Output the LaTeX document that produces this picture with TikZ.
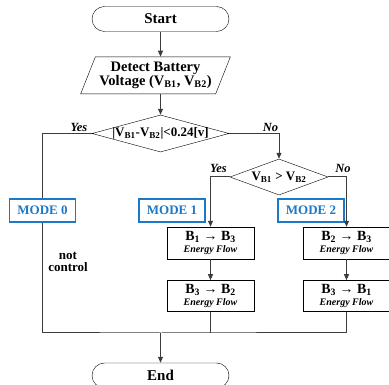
\documentclass[tikz,border=0pt]{standalone}
\usepackage{fontspec}
\setmainfont{Liberation Serif}
\usetikzlibrary{positioning,arrows.meta,shapes.geometric}
\definecolor{fcblue}{RGB}{28,120,200}
\definecolor{fcline}{RGB}{60,60,60}
\tikzset{
  term/.style={draw, rounded corners=12.5pt, minimum width=137pt, minimum height=25pt, font=\fontsize{15}{16}\selectfont\bfseries},
  io/.style={draw, trapezium, trapezium left angle=63, trapezium right angle=117, trapezium stretches=true, minimum width=150pt, minimum height=37pt, align=center, inner sep=0pt, font=\fontsize{14.5}{13}\selectfont\bfseries},
  decision/.style={draw, diamond, inner sep=0pt, text height=8pt, text depth=1pt, font=\fontsize{13}{14}\selectfont\bfseries},
  modebox/.style={draw=fcblue, line width=1.2pt, fill=white, text=fcblue, minimum width=66pt, minimum height=23pt, inner sep=0pt, font=\fontsize{13}{14}\selectfont\bfseries},
  flowbox/.style={draw, minimum width=87pt, minimum height=32pt, align=center, inner sep=0pt, font=\fontsize{14}{12}\selectfont\bfseries},
  tag/.style={font=\fontsize{12.5}{13}\selectfont\bfseries\itshape},
  arrow/.style={-{Triangle[length=6pt,width=5pt]}, fcline, line width=1pt},
  line/.style={fcline, line width=1pt}
}
\newcommand{\eflow}{{\fontsize{10}{11}\selectfont\itshape Energy Flow}}

\begin{document}
\begin{tikzpicture}[x=1pt, y=-1pt, node distance=21pt]
  \useasboundingbox (0,0) rectangle (389,385);
  \node[term] (start) at (160.5,19) {Start};
  \node[io, below=25pt of start, xshift=-5pt] (detect) {Detect Battery\\Voltage (V\textsubscript{B1}, V\textsubscript{B2})};
  \node[decision, aspect=3.7, minimum width=137pt, minimum height=37pt] (d1) at (160.5,133.5) {|V\textsubscript{B1}-V\textsubscript{B2}|<0.24[v]};
  \node[decision, aspect=2.7, minimum width=98pt, minimum height=36pt] (d2) at (279,177) {V\textsubscript{B1} > V\textsubscript{B2}};
  \node[modebox] (mode0) at (42.5,210.5) {MODE 0};
  \node[modebox] (mode1) at (172,210.5) {MODE 1};
  \node[modebox] (mode2) at (311,210.5) {MODE 2};
  \node[flowbox] (b13) at (210.5,243) {B\textsubscript{1} → B\textsubscript{3}\\\eflow};
  \node[flowbox, minimum height=31pt, below=of b13] (b32) {B\textsubscript{3} → B\textsubscript{2}\\\eflow};
  \node[flowbox, minimum width=86pt] (b23) at (346.5,243) {B\textsubscript{2} → B\textsubscript{3}\\\eflow};
  \node[flowbox, minimum width=86pt, minimum height=31pt, below=of b23] (b31) {B\textsubscript{3} → B\textsubscript{1}\\\eflow};
  \node[align=center, font=\fontsize{13}{12}\selectfont\bfseries] (nctrl) at (68,262) {not\\control};
  \node[term] (endn) at (160.5,375.5) {End};
  \coordinate (merge) at (160.5,333);
  % branch labels
  \node[tag] (yes1) at (79,127) {Yes};
  \node[tag] (no1) at (270.5,127) {No};
  \node[tag] (yes2) at (218.5,168) {Yes};
  \node[tag] (no2) at (343,168) {No};
  % connectors
  \draw[arrow] (start) -- (start |- detect.north);
  \draw[arrow] (detect.south -| d1) -- (d1);
  \draw[line] (d1.west) -| (mode0.north);
  \draw[arrow] (d1.east) -| (d2.north);
  \draw[arrow] (d2.west) -| (b13.north);
  \draw[arrow] (d2.east) -| (b23.north);
  \draw[arrow] (b13) -- (b32);
  \draw[arrow] (b23) -- (b31);
  \draw[line] (mode0.south) |- (merge) -| (b31.south);
  \draw[line] (b32.south) -- (b32.south |- merge);
  \draw[arrow] (merge) -- (endn);
\end{tikzpicture}
\end{document}
